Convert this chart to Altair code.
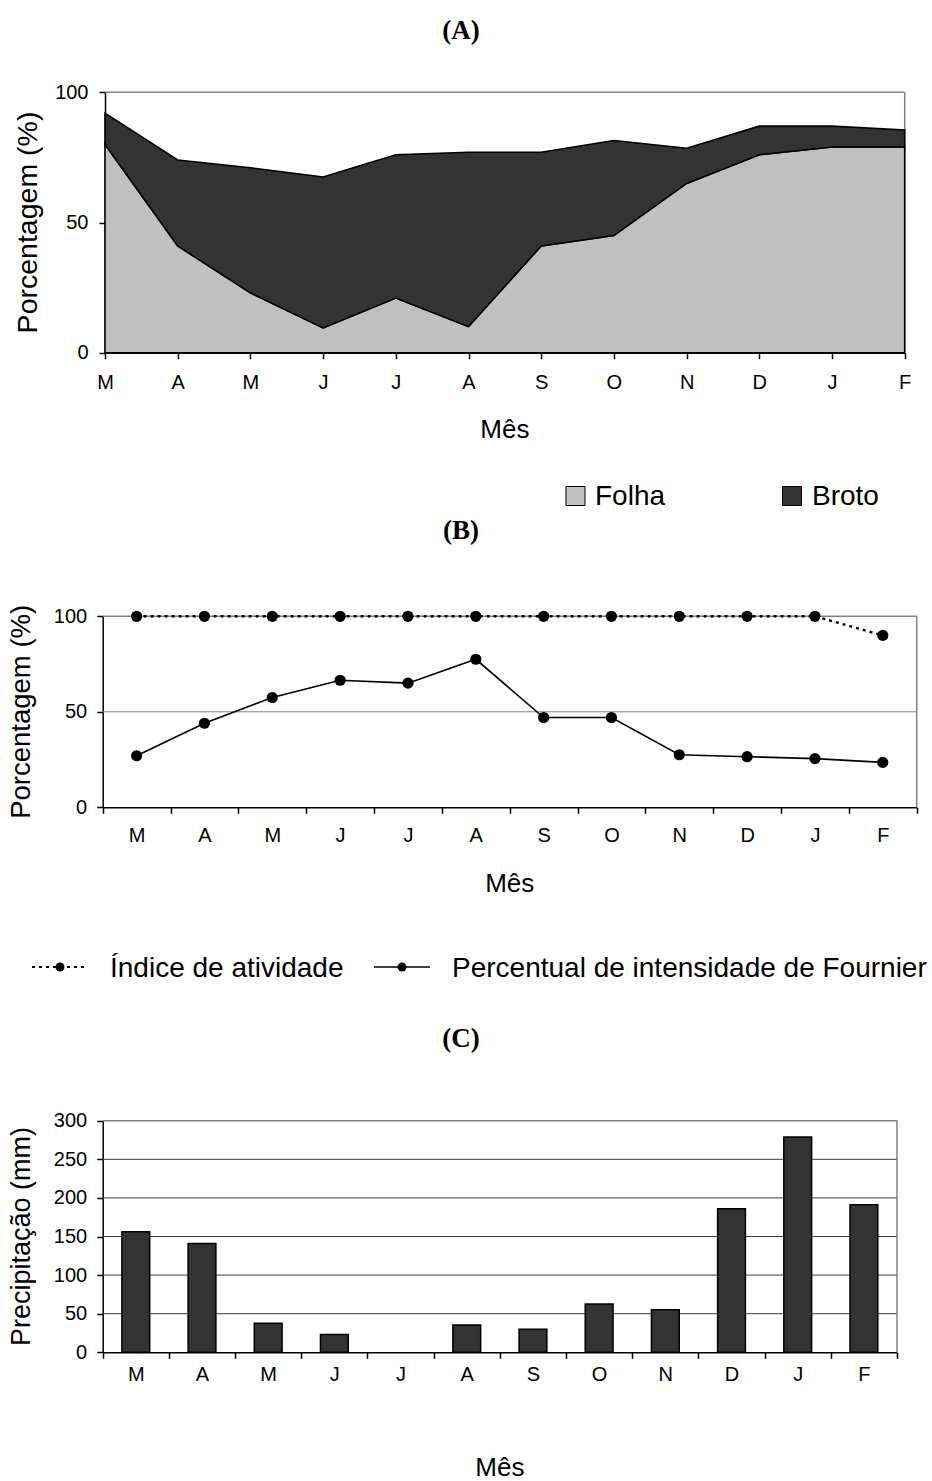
import altair as alt
import pandas as pd

# ---------------------------------------------------------------- data
meses = ["Mar", "Abr", "Mai", "Jun", "Jul", "Ago", "Set", "Out", "Nov", "Dez", "Jan", "Fev"]

# (A) percentage of individuals with leaves (Folha) and shoots (Broto), stacked
folha = [80, 41, 23, 9.5, 21, 10, 41, 45, 65, 76, 79, 79]
broto = [12, 33, 48, 58, 55, 67, 36, 36.5, 13.5, 11, 8, 6.5]

# (B) activity index and Fournier intensity percentage
indice_atividade = [100, 100, 100, 100, 100, 100, 100, 100, 100, 100, 100, 90]
fournier = [27, 44, 57.5, 66.5, 65, 77.5, 47, 47, 27.5, 26.5, 25.5, 23.5]

# (C) monthly rainfall (mm)
precipitacao = [156, 141, 37.5, 23, 0, 35.5, 30, 62.5, 55, 186, 279, 191]

ticks_pct = [0, 50, 100]
ticks_mm = [0, 50, 100, 150, 200, 250, 300]
grade_b = [50]
grade_c = [50, 100, 150, 200, 250]

# ---------------------------------------------------------------- geometry / style
W, H = 932, 1481
A_X, A_Y = (105, 904.7), (352.7, 92.3)
B_X, B_Y = (102.7, 916.7), (807.3, 616.3)
C_X, C_Y = (102.7, 897.0), (1352.3, 1120.7)

SANS = "Liberation Sans"
SERIF = "Liberation Serif"
CINZA_CLARO = "#C0C0C0"
CINZA_ESCURO = "#333333"
BORDA = "#808080"
# month initial; the extra boundary tick of a band axis has no value and stays blank
INICIAL = "isString(datum.value) ? substring(datum.value, 0, 1) : ''"


def eixo_x(y_px, pad, **kw):
    return alt.Axis(orient="bottom", offset=-(H - y_px), title=None, labelExpr=INICIAL,
                    labelAngle=0, labelPadding=pad, grid=False, labelOverlap=False, **kw)


def eixo_y(x_px, valores, pad):
    return alt.Axis(orient="left", offset=-x_px, title=None, values=valores, grid=False,
                    labelPadding=pad, labelOverlap=False)


# ---------------------------------------------------------------- panel A
df_a = pd.DataFrame({
    "mes": meses * 2,
    "serie": ["Folha"] * 12 + ["Broto"] * 12,
    "valor": folha + broto,
    "ordem": [0] * 12 + [1] * 12,
})
x_a = alt.X("mes:O", sort=meses,
            scale=alt.Scale(type="point", domain=meses, range=list(A_X), padding=0),
            axis=eixo_x(A_Y[0], 14))
y_a = alt.Y("valor:Q", stack="zero",
            scale=alt.Scale(domain=[0, 100], range=list(A_Y), nice=False),
            axis=eixo_y(A_X[0], ticks_pct, 11))

topo_a = alt.Chart(pd.DataFrame({"valor": [100]})).mark_rule(color=BORDA, strokeWidth=1.5).encode(
    y=alt.Y("valor:Q"), x=alt.value(A_X[0]), x2=alt.value(A_X[1]))
dir_a = alt.Chart(pd.DataFrame({"valor": [0], "topo": [100]})).mark_rule(color=BORDA, strokeWidth=1.5).encode(
    y=alt.Y("valor:Q"), y2="topo:Q", x=alt.value(A_X[1]))
area_a = alt.Chart(df_a).mark_area(stroke="black", strokeWidth=1.6, opacity=1).encode(
    x=x_a, y=y_a,
    color=alt.Color("serie:N", scale=alt.Scale(domain=["Folha", "Broto"],
                                               range=[CINZA_CLARO, CINZA_ESCURO]), legend=None),
    order=alt.Order("ordem:Q"),
)
painel_a = alt.layer(topo_a, dir_a, area_a)

# ---------------------------------------------------------------- panel B
df_b = pd.DataFrame({
    "mes": meses * 2,
    "serie": ["indice"] * 12 + ["fournier"] * 12,
    "valor": indice_atividade + fournier,
})
x_b = alt.X("mes:O", sort=meses,
            scale=alt.Scale(type="band", domain=meses, range=list(B_X),
                            paddingInner=0, paddingOuter=0),
            axis=eixo_x(B_Y[0], 12, tickBand="extent"))
y_b = alt.Y("valor:Q", scale=alt.Scale(domain=[0, 100], range=list(B_Y), nice=False),
            axis=eixo_y(B_X[0], ticks_pct, 10))

grade_b_ch = alt.Chart(pd.DataFrame({"valor": grade_b})).mark_rule(color=BORDA, strokeWidth=1).encode(
    y="valor:Q", x=alt.value(B_X[0]), x2=alt.value(B_X[1]))
topo_b = alt.Chart(pd.DataFrame({"valor": [100]})).mark_rule(color=BORDA, strokeWidth=1.5).encode(
    y="valor:Q", x=alt.value(B_X[0]), x2=alt.value(B_X[1]))
dir_b = alt.Chart(pd.DataFrame({"valor": [0], "topo": [100]})).mark_rule(color=BORDA, strokeWidth=1.5).encode(
    y="valor:Q", y2="topo:Q", x=alt.value(B_X[1]))
base_b = alt.Chart(df_b).encode(x=x_b, y=y_b)
linha_ind = base_b.transform_filter(alt.datum.serie == "indice").mark_line(
    color="black", strokeWidth=2.4, strokeDash=[3, 4])
linha_fou = base_b.transform_filter(alt.datum.serie == "fournier").mark_line(
    color="black", strokeWidth=1.6)
pontos_b = base_b.mark_circle(color="black", size=125, opacity=1)
painel_b = alt.layer(grade_b_ch, topo_b, dir_b, linha_ind, linha_fou, pontos_b)

# ---------------------------------------------------------------- panel C
df_c = pd.DataFrame({"mes": meses, "valor": precipitacao})
x_c = alt.X("mes:O", sort=meses,
            scale=alt.Scale(type="band", domain=meses, range=list(C_X),
                            paddingInner=0, paddingOuter=0),
            axis=eixo_x(C_Y[0], 6, tickBand="extent"))
y_c = alt.Y("valor:Q", scale=alt.Scale(domain=[0, 300], range=list(C_Y), nice=False),
            axis=eixo_y(C_X[0], ticks_mm, 10))

grade_c_ch = alt.Chart(pd.DataFrame({"valor": grade_c})).mark_rule(color="#3a3a3a", strokeWidth=1).encode(
    y="valor:Q", x=alt.value(C_X[0]), x2=alt.value(C_X[1]))
topo_c = alt.Chart(pd.DataFrame({"valor": [300]})).mark_rule(color=BORDA, strokeWidth=1.5).encode(
    y="valor:Q", x=alt.value(C_X[0]), x2=alt.value(C_X[1]))
dir_c = alt.Chart(pd.DataFrame({"valor": [0], "topo": [300]})).mark_rule(color=BORDA, strokeWidth=1.5).encode(
    y="valor:Q", y2="topo:Q", x=alt.value(C_X[1]))
# a month without rain has no visible bar
barras_c = alt.Chart(df_c).transform_filter(alt.datum.valor > 0).mark_bar(
    width=alt.RelativeBandSize(0.42), fill=CINZA_ESCURO, stroke="black", strokeWidth=1.5
).encode(x=x_c, y=y_c)
painel_c = alt.layer(grade_c_ch, topo_c, dir_c, barras_c)


# ---------------------------------------------------------------- texts, titles and legends
def texto(rotulo, x, y, size, font=SANS, bold=False, align="center", angle=0):
    props = dict(font=font, fontSize=size, align=align, baseline="alphabetic", color="black")
    if bold:
        props["fontWeight"] = "bold"
    if angle:
        props["angle"] = angle
    return alt.Chart(pd.DataFrame({"rotulo": [rotulo]})).mark_text(**props).encode(
        text="rotulo:N", x=alt.value(x), y=alt.value(y))


textos = [
    texto("(A)", 461, 39, 27, SERIF, True),
    texto("(B)", 461, 539, 27, SERIF, True),
    texto("(C)", 461, 1047, 27, SERIF, True),
    texto("Mês", (A_X[0] + A_X[1]) / 2, 438, 26),
    texto("Mês", (B_X[0] + B_X[1]) / 2, 892, 26),
    texto("Mês", (C_X[0] + C_X[1]) / 2, 1476, 26),
    texto("Porcentagem (%)", 36.5, (A_Y[0] + A_Y[1]) / 2, 28.5, angle=270),
    texto("Porcentagem (%)", 30, (B_Y[0] + B_Y[1]) / 2, 27.5, angle=270),
    texto("Precipitação (mm)", 29.5, (C_Y[0] + C_Y[1]) / 2, 27, angle=270),
    texto("Folha", 595, 505, 28, align="left"),
    texto("Broto", 812, 505, 28, align="left"),
    texto("Índice de atividade", 110, 977, 28, align="left"),
    texto("Percentual de intensidade de Fournier", 452, 977, 28, align="left"),
]

um = pd.DataFrame({"k": [0]})
leg_a = [
    alt.Chart(um).mark_square(size=361, fill=CINZA_CLARO, stroke="black", strokeWidth=1, opacity=1).encode(
        x=alt.value(575.5), y=alt.value(496)),
    alt.Chart(um).mark_square(size=361, fill=CINZA_ESCURO, stroke="black", strokeWidth=1, opacity=1).encode(
        x=alt.value(792), y=alt.value(496)),
]
leg_b = [
    alt.Chart(um).mark_rule(color="black", strokeWidth=2, strokeDash=[3, 4]).encode(
        x=alt.value(32), x2=alt.value(88), y=alt.value(967)),
    alt.Chart(um).mark_circle(color="black", size=80, opacity=1).encode(
        x=alt.value(60), y=alt.value(967)),
    alt.Chart(um).mark_rule(color="black", strokeWidth=1.6).encode(
        x=alt.value(374), x2=alt.value(430), y=alt.value(967)),
    alt.Chart(um).mark_circle(color="black", size=80, opacity=1).encode(
        x=alt.value(402), y=alt.value(967)),
]

chart = (
    alt.layer(painel_a, painel_b, painel_c, *textos, *leg_a, *leg_b)
    .resolve_scale(x="independent", y="independent", color="independent")
    .properties(width=W, height=H, padding=0, background="white",
                autosize=alt.AutoSizeParams(type="none"))
    .configure_view(strokeWidth=0)
    .configure_axis(domainColor="black", domainWidth=1.5, tickColor="black", tickWidth=1.5,
                    tickSize=6, labelFont=SANS, labelFontSize=20, labelColor="black")
)

chart.save("out.html", embed_options={"renderer": "svg", "actions": False})
